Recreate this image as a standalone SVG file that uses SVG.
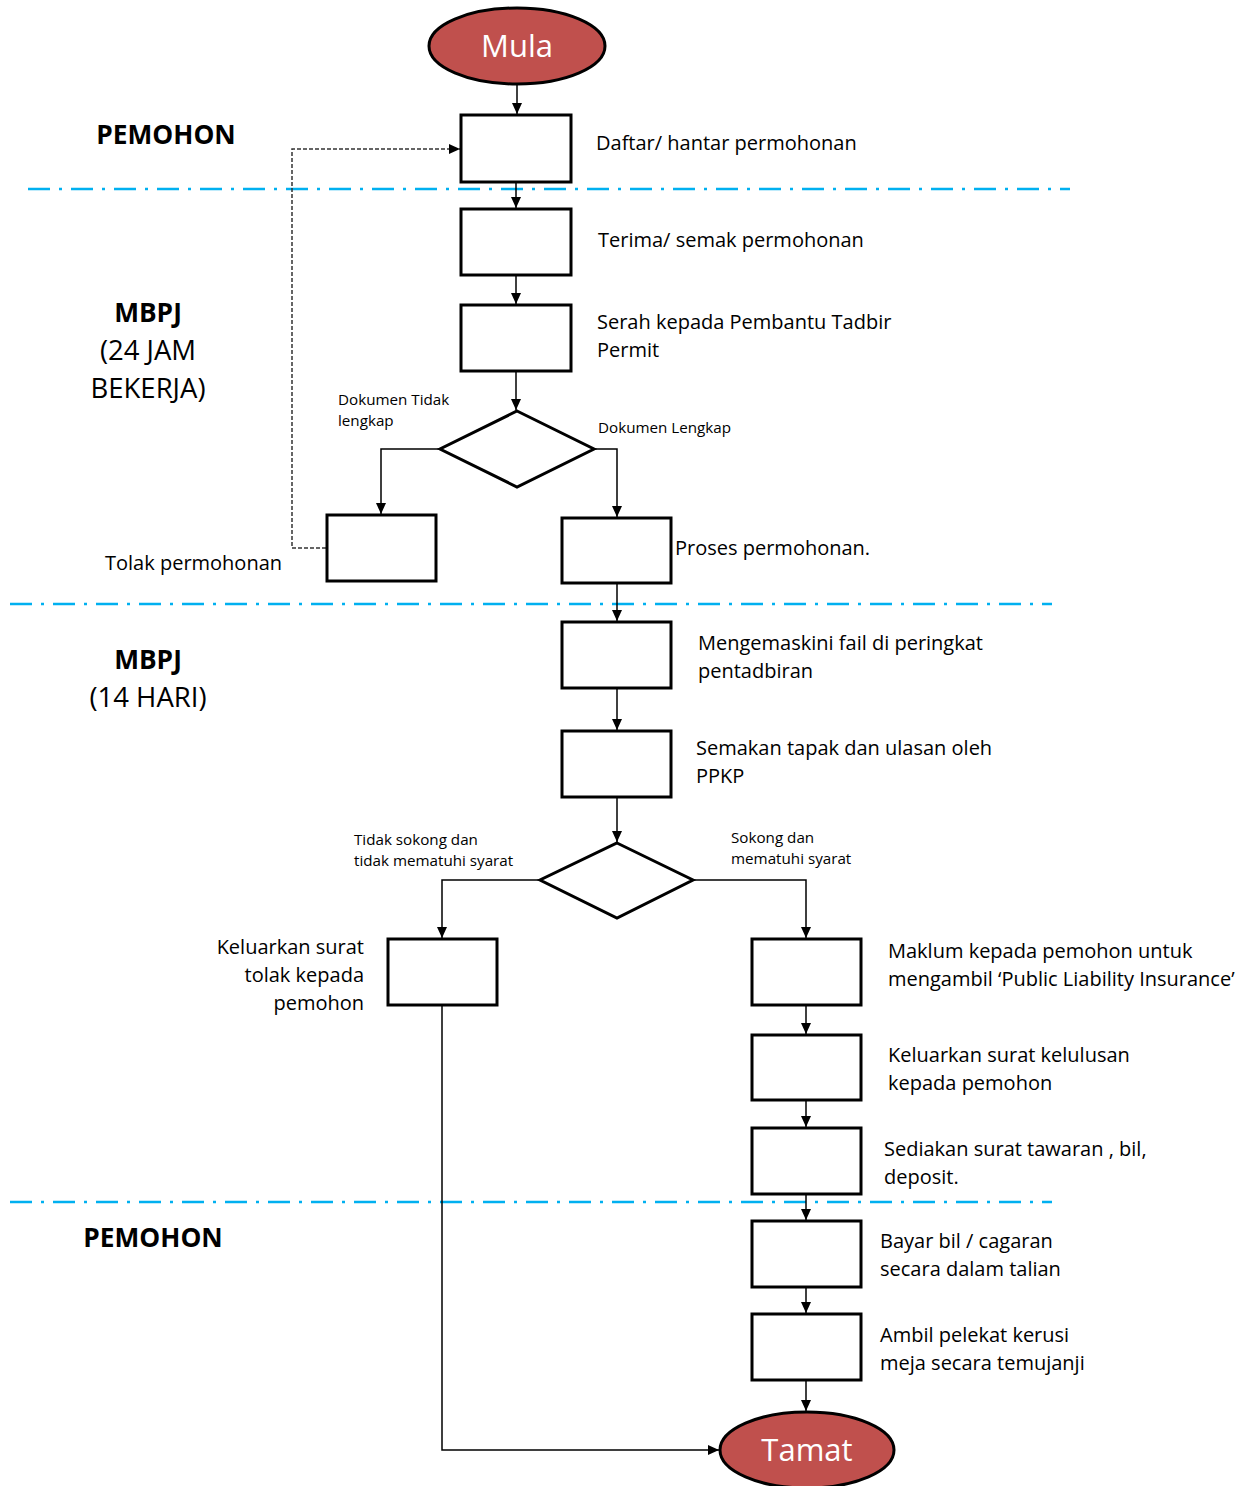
<svg xmlns="http://www.w3.org/2000/svg" width="1251" height="1486" viewBox="0 0 1251 1486">
<style>
.box{fill:#fff;stroke:#000;stroke-width:3}
.term{fill:#C0504D;stroke:#000;stroke-width:3}
.tt{font-family:"Open Sans","Liberation Sans",sans-serif;font-size:31px;fill:#fff;text-anchor:middle}
.lbl{font-family:"Open Sans","Liberation Sans",sans-serif;font-size:20px;fill:#000}
.sm{font-family:"Open Sans","Liberation Sans",sans-serif;font-size:15.2px;fill:#000}
.lane{font-family:"Open Sans","Liberation Sans",sans-serif;font-size:26.3px;fill:#000;font-weight:bold;text-anchor:middle}
.lane2{font-family:"Open Sans","Liberation Sans",sans-serif;font-size:27.5px;fill:#000;text-anchor:middle}
.sep{stroke:#00B0F0;stroke-width:2.5;stroke-dasharray:22 9 3 9;fill:none}
.c{stroke:#000;stroke-width:1.5;fill:none;marker-end:url(#ah)}
.d{stroke:#333;stroke-width:1.5;fill:none;stroke-dasharray:4 2;marker-end:url(#ah)}
</style>
<defs>
<marker id="ah" markerUnits="userSpaceOnUse" markerWidth="12" markerHeight="10" refX="11" refY="5" orient="auto">
<path d="M0,0 L11,5 L0,10 Z" fill="#000"/>
</marker>
</defs>
<rect width="1251" height="1486" fill="#fff"/>
<g id="separators">
<line class="sep" x1="28" y1="189" x2="1070" y2="189"/>
<line class="sep" x1="10" y1="604" x2="1052" y2="604"/>
<line class="sep" x1="10" y1="1202" x2="1052" y2="1202"/>
</g>
<g id="lanes">
<text class="lane" x="166" y="144">PEMOHON</text>
<text class="lane" x="148" y="322">MBPJ</text>
<text class="lane2" x="148" y="360">(24 JAM</text>
<text class="lane2" x="148" y="398">BEKERJA)</text>
<text class="lane" x="148" y="669">MBPJ</text>
<text class="lane2" x="148" y="707">(14 HARI)</text>
<text class="lane" x="153" y="1247">PEMOHON</text>
</g>
<g id="connectors">
<line class="c" x1="517" y1="85" x2="517" y2="114"/>
<line class="c" x1="516" y1="183" x2="516" y2="208"/>
<line class="c" x1="516" y1="276" x2="516" y2="304"/>
<line class="c" x1="516" y1="372" x2="516" y2="410"/>
<polyline class="c" points="440,449 381,449 381,514"/>
<polyline class="c" points="594,449 617,449 617,517"/>
<polyline class="d" points="326,548 292,548 292,149 460,149"/>
<line class="c" x1="617" y1="584" x2="617" y2="621"/>
<line class="c" x1="617" y1="689" x2="617" y2="730"/>
<line class="c" x1="617" y1="798" x2="617" y2="842"/>
<polyline class="c" points="540,880 442,880 442,938"/>
<polyline class="c" points="693,880 806,880 806,938"/>
<line class="c" x1="806" y1="1006" x2="806" y2="1034"/>
<line class="c" x1="806" y1="1101" x2="806" y2="1127"/>
<line class="c" x1="806" y1="1195" x2="806" y2="1220"/>
<line class="c" x1="806" y1="1288" x2="806" y2="1313"/>
<line class="c" x1="806" y1="1381" x2="806" y2="1411"/>
<polyline class="c" points="442,1006 442,1450 719,1450"/>
</g>
<g id="mula"><ellipse class="term" cx="517" cy="46" rx="88" ry="38"/><text class="tt" x="517" y="57">Mula</text></g>
<g id="daftar"><rect class="box" x="461" y="115" width="110" height="67"/><text class="lbl" x="596" y="150">Daftar/ hantar permohonan</text></g>
<g id="terima"><rect class="box" x="461" y="209" width="110" height="66"/><text class="lbl" x="598" y="247">Terima/ semak permohonan</text></g>
<g id="serah"><rect class="box" x="461" y="305" width="110" height="66"/><text class="lbl" x="597" y="329">Serah kepada Pembantu Tadbir</text><text class="lbl" x="597" y="357">Permit</text></g>
<g id="semak1"><polygon class="box" points="517,411 594,449 517,487 440,449"/><text class="sm" x="338" y="405">Dokumen Tidak</text><text class="sm" x="338" y="426">lengkap</text><text class="sm" x="598" y="433">Dokumen Lengkap</text></g>
<g id="tolak"><rect class="box" x="327" y="515" width="109" height="66"/><text class="lbl" x="105" y="570">Tolak permohonan</text></g>
<g id="proses"><rect class="box" x="562" y="518" width="109" height="65"/><text class="lbl" x="675" y="555">Proses permohonan.</text></g>
<g id="kemaskini"><rect class="box" x="562" y="622" width="109" height="66"/><text class="lbl" x="698" y="650">Mengemaskini fail di peringkat</text><text class="lbl" x="698" y="678">pentadbiran</text></g>
<g id="semakan"><rect class="box" x="562" y="731" width="109" height="66"/><text class="lbl" x="696" y="755">Semakan tapak dan ulasan oleh</text><text class="lbl" x="696" y="783">PPKP</text></g>
<g id="semak2"><polygon class="box" points="617,843 693,880 617,918 540,880"/><text class="sm" x="354" y="845">Tidak sokong dan</text><text class="sm" x="354" y="866">tidak mematuhi syarat</text><text class="sm" x="731" y="843">Sokong dan</text><text class="sm" x="731" y="864">mematuhi syarat</text></g>
<g id="tolaksurat"><rect class="box" x="388" y="939" width="109" height="66"/><text class="lbl" x="364" y="954" text-anchor="end">Keluarkan surat</text><text class="lbl" x="364" y="982" text-anchor="end">tolak kepada</text><text class="lbl" x="364" y="1010" text-anchor="end">pemohon</text></g>
<g id="maklum"><rect class="box" x="752" y="939" width="109" height="66"/><text class="lbl" x="888" y="958">Maklum kepada pemohon untuk</text><text class="lbl" x="888" y="986">mengambil ‘Public Liability Insurance’</text></g>
<g id="lulus"><rect class="box" x="752" y="1035" width="109" height="65"/><text class="lbl" x="888" y="1062">Keluarkan surat kelulusan</text><text class="lbl" x="888" y="1090">kepada pemohon</text></g>
<g id="tawaran"><rect class="box" x="752" y="1128" width="109" height="66"/><text class="lbl" x="884" y="1156">Sediakan surat tawaran , bil,</text><text class="lbl" x="884" y="1184">deposit.</text></g>
<g id="bayar"><rect class="box" x="752" y="1221" width="109" height="66"/><text class="lbl" x="880" y="1248">Bayar bil / cagaran</text><text class="lbl" x="880" y="1276">secara dalam talian</text></g>
<g id="ambil"><rect class="box" x="752" y="1314" width="109" height="66"/><text class="lbl" x="880" y="1342">Ambil pelekat kerusi</text><text class="lbl" x="880" y="1370">meja secara temujanji</text></g>
<g id="tamat"><ellipse class="term" cx="807" cy="1450" rx="87" ry="38"/><text class="tt" x="807" y="1461">Tamat</text></g>
</svg>
